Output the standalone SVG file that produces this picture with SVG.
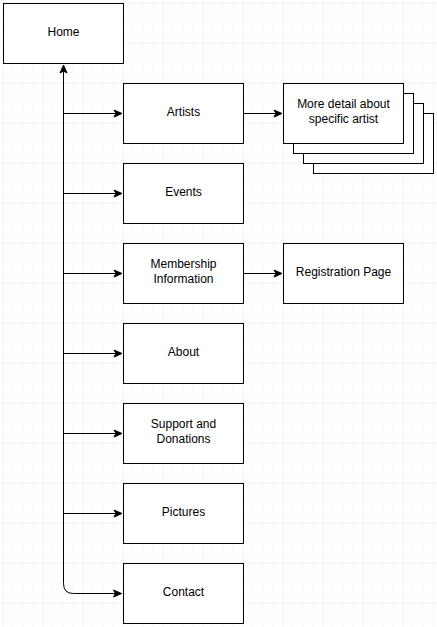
<svg xmlns="http://www.w3.org/2000/svg" width="437" height="627" viewBox="0 0 437 627">
<defs>
<pattern id="minor" x="3.5" y="3.5" width="10" height="10" patternUnits="userSpaceOnUse">
<path d="M10 0V10M0 10H10" fill="none" stroke="#f2f2f2" stroke-width="1"/>
</pattern>
<pattern id="major" x="3.5" y="3.5" width="40" height="40" patternUnits="userSpaceOnUse">
<path d="M40 0V40M0 40H40" fill="none" stroke="#e6e6e6" stroke-width="1"/>
</pattern>
<marker id="arr" markerWidth="10" markerHeight="10" refX="9" refY="5" orient="auto" markerUnits="userSpaceOnUse">
<path d="M1 1.5L9 5L1 8.5L3 5Z" fill="#000" stroke="#000" stroke-width="1"/>
</marker>
</defs>
<style>
.n rect{fill:#fff;stroke:#000;stroke-width:1}
.n text{font-family:"Liberation Sans",Arial,sans-serif;font-size:12px;fill:#000;text-anchor:middle}
.c path{fill:none;stroke:#000;stroke-width:1}
</style>
<rect width="437" height="627" fill="#fff"/>
<rect width="437" height="627" fill="url(#minor)"/>
<rect width="437" height="627" fill="url(#major)"/>
<g id="connectors" class="c">
<path d="M63.5 583.5Q63.5 593.5 73.5 593.5L121.5 593.5" marker-end="url(#arr)"/>
<path d="M63.5 583.5L63.5 65" marker-end="url(#arr)"/>
<path d="M63.5 113.5H122" marker-end="url(#arr)"/>
<path d="M63.5 193.5H122" marker-end="url(#arr)"/>
<path d="M63.5 273.5H122" marker-end="url(#arr)"/>
<path d="M63.5 353.5H122" marker-end="url(#arr)"/>
<path d="M63.5 433.5H122" marker-end="url(#arr)"/>
<path d="M63.5 513.5H122" marker-end="url(#arr)"/>
<path d="M243.5 113.5H282" marker-end="url(#arr)"/>
<path d="M243.5 273.5H282" marker-end="url(#arr)"/>
</g>
<g id="home" class="n"><rect x="3.5" y="3.5" width="120" height="60"/><text x="63.5" y="35.5">Home</text></g>
<g id="artists" class="n"><rect x="123.5" y="83.5" width="120" height="60"/><text x="183.5" y="115.5">Artists</text></g>
<g id="events" class="n"><rect x="123.5" y="163.5" width="120" height="60"/><text x="183.5" y="195.5">Events</text></g>
<g id="membership" class="n"><rect x="123.5" y="243.5" width="120" height="60"/><text x="183.5" y="268">Membership</text><text x="183.5" y="282.5">Information</text></g>
<g id="about" class="n"><rect x="123.5" y="323.5" width="120" height="60"/><text x="183.5" y="355.5">About</text></g>
<g id="support" class="n"><rect x="123.5" y="403.5" width="120" height="60"/><text x="183.5" y="428">Support and</text><text x="183.5" y="442.5">Donations</text></g>
<g id="pictures" class="n"><rect x="123.5" y="483.5" width="120" height="60"/><text x="183.5" y="515.5">Pictures</text></g>
<g id="contact" class="n"><rect x="123.5" y="563.5" width="120" height="60"/><text x="183.5" y="595.5">Contact</text></g>
<g id="artist-detail" class="n">
<rect x="313.5" y="113.5" width="120" height="60"/>
<rect x="303.5" y="103.5" width="120" height="60"/>
<rect x="293.5" y="93.5" width="120" height="60"/>
<rect x="283.5" y="83.5" width="120" height="60"/>
<text x="343.5" y="108">More detail about</text><text x="343.5" y="122.5">specific artist</text>
</g>
<g id="registration" class="n"><rect x="283.5" y="243.5" width="120" height="60"/><text x="343.5" y="275.5">Registration Page</text></g>
</svg>
